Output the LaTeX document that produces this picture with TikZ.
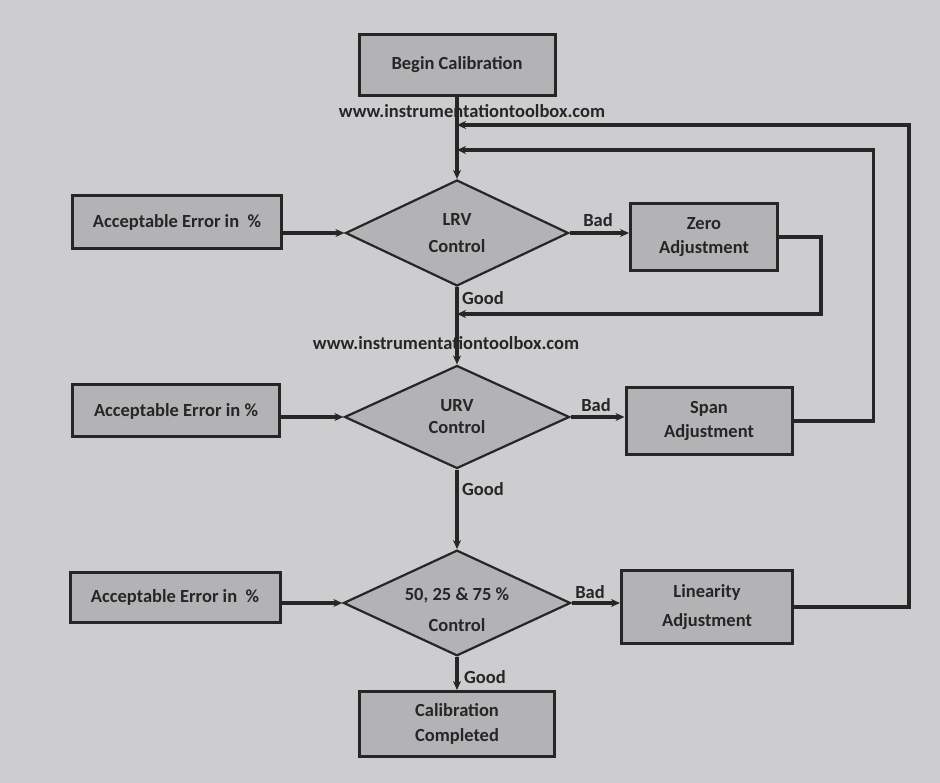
\documentclass[tikz,border=0pt]{standalone}
\usepackage{fontspec}
\setmainfont{Carlito}
\usetikzlibrary{shapes.geometric,arrows.meta}
\definecolor{bgc}{HTML}{CDCDCF}
\definecolor{boxc}{HTML}{B3B3B5}
\begin{document}
\begin{tikzpicture}[x=1pt,y=-1pt,
  every node/.style={font=\fontsize{18.5}{21}\selectfont\bfseries, text=black!85},
  box/.style={draw=black!85, line width=3pt, fill=boxc, align=center, inner sep=2pt},
  dia/.style={diamond, aspect=2.15, draw=black!85, line width=2.2pt, fill=boxc, align=center, inner sep=0pt},
  conn/.style={draw=black!85, line width=3.2pt, -{Stealth[length=9pt,width=8pt]}},
  lbl/.style={inner sep=1pt},
]
\useasboundingbox (0,0) rectangle (940,783);
\fill[bgc] (0,0) rectangle (940,783);

% nodes
\node[box, minimum width=196pt, minimum height=61pt] (begin) at (457,65) {Begin Calibration};
\node[dia, minimum width=223pt, minimum height=106pt] (d1) at (457,233) {LRV\\[6pt]Control};
\node[box, minimum width=209pt, minimum height=53pt] (e1) at (177,222) {Acceptable Error in\ \ \%};
\node[box, minimum width=147pt, minimum height=67pt] (zero) at (704,237) {Zero\\[3pt]Adjustment};

\node[dia, minimum width=225pt, minimum height=103pt] (d2) at (457,417) {URV\\[1pt]Control};
\node[box, minimum width=207pt, minimum height=52pt] (e2) at (176,411) {Acceptable Error in \%};
\node[box, minimum width=166pt, minimum height=67pt] (span) at (709,421) {Span\\[3pt]Adjustment};

\node[dia, minimum width=225pt, minimum height=102pt] (d3) at (457,603) {\rule{0pt}{26pt}50, 25 \& 75 \%\\[10pt]Control};
\node[box, minimum width=210pt, minimum height=50pt] (e3) at (175,597) {Acceptable Error in\ \ \%};
\node[box, minimum width=171pt, minimum height=73pt] (lin) at (707,607) {Linearity\\[8pt]Adjustment};

\node[box, minimum width=195pt, minimum height=65pt] (done) at (457,724) {Calibration\\[4pt]Completed};

% return points on the main line
\coordinate (r3) at (457,125);
\coordinate (r2) at (457,150);
\coordinate (r1) at (457,314);

% main flow
\draw[conn] (begin.south) -- (d1.north);
\draw[conn] (d1.south) -- (d2.north);
\draw[conn] (d2.south) -- (d3.north);
\draw[conn] (d3.south) -- (done.north);

% inputs
\draw[conn] (e1.east |- d1.west) -- (d1.west);
\draw[conn] (e2.east |- d2.west) -- (d2.west);
\draw[conn] (e3.east |- d3.west) -- (d3.west);

% bad branches
\draw[conn] (d1.east) -- (zero.west |- d1.east);
\draw[conn] (d2.east) -- (span.west |- d2.east);
\draw[conn] (d3.east) -- (lin.west |- d3.east);

% loops back
\draw[conn] (zero.east) -- ++(42,0) |- (r1);
\draw[conn] (span.east) -- ++(80,0) |- (r2);
\draw[conn] (lin.east) -- ++(115,0) |- (r3);

% labels
\node[lbl, anchor=south] (b1) at (598,228) {Bad};
\node[lbl, anchor=south] (b2) at (596,413) {Bad};
\node[lbl, anchor=south] (b3) at (590,600) {Bad};
\node[lbl, anchor=west] (g1) at (461,298) {Good};
\node[lbl, anchor=west] (g2) at (461,489) {Good};
\node[lbl, anchor=west] (g3) at (463,677) {Good};
\node[lbl] (w1) at (472,111) {www.instrumentationtoolbox.com};
\node[lbl] (w2) at (446,343) {www.instrumentationtoolbox.com};
\end{tikzpicture}
\end{document}
